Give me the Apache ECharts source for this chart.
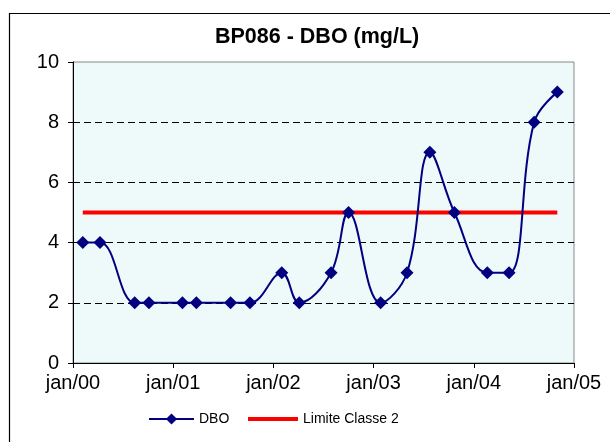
<!DOCTYPE html>
<html>
<head>
<meta charset="utf-8">
<script src="https://cdn.jsdelivr.net/npm/echarts@6/dist/echarts.min.js"></script>
<style>
html,body{margin:0;padding:0;background:#fff;}
#chart{width:610px;height:442px;}
</style>
</head>
<body>
<div id="chart"></div>
<script>
// Data
const dboDates = ['2000-02-06','2000-04-08','2000-08-13','2000-10-04','2001-02-04','2001-03-25','2001-07-28','2001-10-07','2002-02-01','2002-04-04','2002-07-29','2002-10-01','2003-01-27','2003-05-01','2003-07-24','2003-10-22','2004-02-19','2004-05-08','2004-08-08','2004-11-01'];
const dboValues = [4,4,2,2,2,2,2,2,3,2,3,5,2,3,7,5,3,3,8,9];
const limitDates = ['2000-02-06','2004-11-01'];
const limitValues = [5,5];
const yTicks = [0,2,4,6,8,10];
const xStartYear = 2000;
const xYears = 5;

function toMonths(d){
  const p = d.split('-').map(Number);
  const dim = new Date(p[0], p[1], 0).getDate();
  return (p[0]-xStartYear)*12 + (p[1]-1) + (p[2]-1)/dim;
}
const dboData = dboDates.map((d,i)=>[toMonths(d), dboValues[i]]);
const limitData = limitDates.map((d,i)=>[toMonths(d), limitValues[i]]);

const chart = echarts.init(document.getElementById('chart'), null, {renderer:'canvas'});
const font = 'Arial, "Liberation Sans", sans-serif';
chart.setOption({
  backgroundColor:'#ffffff',
  animation:false,
  title:{
    text:'BP086 - DBO (mg/L)',
    left:210, top:21,
    textStyle:{fontFamily:font, fontSize:21.5, fontWeight:'bold', color:'#000'}
  },
  graphic:[{
    type:'rect', silent:true,
    shape:{x:9.5, y:13.5, width:700, height:500},
    style:{fill:'none', stroke:'#000', lineWidth:1.2}
  }],
  legend:[{
    left:143, top:407, itemWidth:45, itemHeight:14,
    data:['DBO'],
    textStyle:{fontFamily:font, fontSize:14, color:'#000'}
  },{
    left:243, top:407, itemWidth:50, itemHeight:4, icon:'rect',
    data:['Limite Classe 2'],
    textStyle:{fontFamily:font, fontSize:14, color:'#000'}
  }],
  grid:{
    left:73, right:36, top:62, bottom:79,
    show:true, backgroundColor:'#EEF9F9', borderColor:'#888', borderWidth:1
  },
  xAxis:{
    type:'value', min:0, max:xYears*12, interval:12,
    axisLine:{show:true, lineStyle:{color:'#000', width:1}},
    axisTick:{show:true, inside:false, length:5, lineStyle:{color:'#000'}},
    axisLabel:{
      margin:10, color:'#000', fontFamily:font, fontSize:20,
      formatter:v=>'jan/'+String((xStartYear+Math.round(v/12))%100).padStart(2,'0')
    },
    splitLine:{show:false}
  },
  yAxis:{
    type:'value', min:yTicks[0], max:yTicks[yTicks.length-1], interval:2,
    axisLine:{show:true, lineStyle:{color:'#000', width:1}},
    axisTick:{show:true, inside:false, length:5, lineStyle:{color:'#000'}},
    axisLabel:{margin:14, color:'#000', fontFamily:font, fontSize:20},
    splitLine:{show:true, showMinLine:false, showMaxLine:false, lineStyle:{color:'#000', type:[7,4], width:1}}
  },
  series:[{
    name:'DBO', type:'line', data:dboData, smooth:0.4,
    symbol:'diamond', symbolSize:13,
    lineStyle:{color:'#000080', width:2},
    itemStyle:{color:'#000080'},
    z:3
  },{
    name:'Limite Classe 2', type:'line', data:limitData,
    symbol:'none',
    lineStyle:{color:'#FF0000', width:4},
    itemStyle:{color:'#FF0000'},
    z:2
  }]
});
</script>
</body>
</html>
